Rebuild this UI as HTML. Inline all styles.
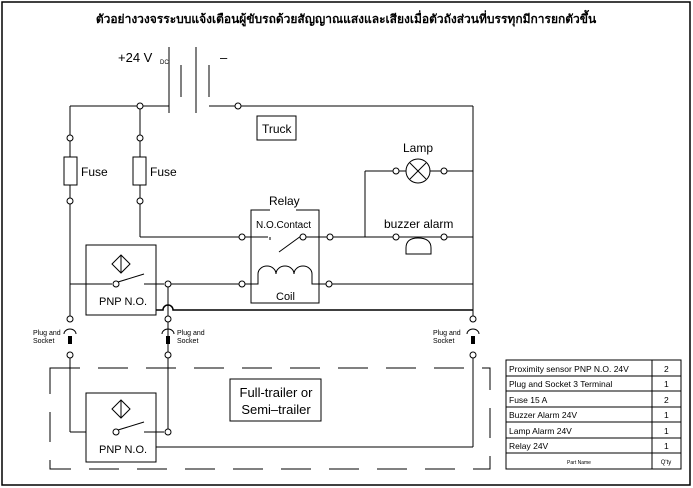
<!DOCTYPE html>
<html><head><meta charset="utf-8"><style>
html,body{margin:0;padding:0;background:#fff;}
svg{display:block;}
text{font-family:"Liberation Sans","DejaVu Sans",sans-serif;fill:#000;}
</style></head><body>
<svg width="693" height="488" viewBox="0 0 693 488" xmlns="http://www.w3.org/2000/svg">
<rect x="2" y="2" width="688" height="483" fill="none" stroke="#000" stroke-width="1.5"/>
<text x="346" y="23" font-size="12" font-weight="bold" text-anchor="middle" font-family="'Liberation Sans','Noto Sans CJK SC',sans-serif">ตัวอย่างวงจรระบบแจ้งเตือนผู้ขับรถด้วยสัญญาณแสงและเสียงเมื่อตัวถังส่วนที่บรรทุกมีการยกตัวขึ้น</text>
<g stroke="#000" stroke-width="1" fill="none">
<line x1="70" y1="106" x2="169" y2="106"/>
<line x1="209" y1="106" x2="473" y2="106"/>
<line x1="169" y1="47" x2="169" y2="113"/>
<line x1="181" y1="65" x2="181" y2="97"/>
<line x1="196" y1="47" x2="196" y2="113"/>
<line x1="209" y1="65" x2="209" y2="97"/>
<line x1="70" y1="106" x2="70" y2="319"/>
<line x1="140" y1="106" x2="140" y2="237"/>
<rect x="64" y="157" width="13" height="28" fill="#fff"/>
<rect x="133" y="157" width="13" height="28" fill="#fff"/>
<line x1="473" y1="106" x2="473" y2="319"/>
<rect x="257" y="116" width="39" height="24"/>
<line x1="365" y1="171" x2="473" y2="171"/>
<line x1="365" y1="171" x2="365" y2="237"/>
<circle cx="418" cy="171" r="12" fill="#fff"/>
<line x1="410" y1="163" x2="426" y2="179"/><line x1="426" y1="163" x2="410" y2="179"/>
<line x1="140" y1="237" x2="242" y2="237"/>
<line x1="242" y1="237" x2="268" y2="237"/>
<line x1="303" y1="237" x2="473" y2="237"/>
<line x1="270" y1="237" x2="270" y2="240"/>
<line x1="279" y1="252" x2="301" y2="236"/>
<polyline points="270,210 251,210 251,303 319,303 319,210 296,210"/>
<path d="M406,254 L406,248 Q406,238 418,238 Q431,238 431,248 L431,254 Z" fill="#fff"/>
<line x1="168" y1="284" x2="242" y2="284"/>
<path d="M242,284 L258,284 L258,274 a9,8 0 0 1 18,0 a9,8 0 0 1 18,0 a9,8 0 0 1 18,0 L312,284 L329,284 L473,284"/>
<rect x="86" y="245" width="70" height="70"/>
<path d="M121,255 L112,264 L121,273 L130,264 Z M121,255 L121,273"/>
<line x1="70" y1="284" x2="112" y2="284"/>
<line x1="118" y1="282" x2="144" y2="274"/>
<line x1="144" y1="284" x2="164" y2="284"/>
<line x1="168" y1="284" x2="168" y2="432"/>
<path d="M156,310 L163,310 a5,5 0 0 1 10,0 L473,310" stroke-width="1.5"/>
<line x1="70" y1="355" x2="70" y2="432"/>
<line x1="70" y1="432" x2="112" y2="432"/>
<line x1="473" y1="355" x2="473" y2="447"/>
<line x1="156" y1="447" x2="473" y2="447"/>
<rect x="86" y="393" width="70" height="69" fill="#fff"/>
<path d="M121,400 L112,409 L121,418 L130,409 Z M121,400 L121,418"/>
<line x1="118" y1="430" x2="144" y2="422"/>
<line x1="144" y1="432" x2="164" y2="432"/>
<rect x="50" y="368" width="440" height="101" stroke-dasharray="30,18"/>
<rect x="230" y="379" width="91" height="42" fill="#fff"/>
<rect x="506" y="360" width="175" height="109"/>
<line x1="652" y1="360" x2="652" y2="469"/>
<line x1="506" y1="376" x2="681" y2="376"/><line x1="506" y1="391" x2="681" y2="391"/>
<line x1="506" y1="407" x2="681" y2="407"/><line x1="506" y1="422" x2="681" y2="422"/>
<line x1="506" y1="438" x2="681" y2="438"/><line x1="506" y1="453" x2="681" y2="453"/>
</g>
<g stroke="#000" stroke-width="1" fill="none">
<path d="M64,334 a6,5 0 0 1 12,0"/><path d="M162,334 a6,5 0 0 1 12,0"/><path d="M467,334 a6,5 0 0 1 12,0"/>
</g>
<rect x="68" y="336" width="4" height="8" fill="#000"/>
<rect x="166" y="336" width="4" height="8" fill="#000"/>
<rect x="471" y="336" width="4" height="8" fill="#000"/>
<g stroke="#000" stroke-width="1" fill="#fff">
<circle cx="140" cy="106" r="3"/><circle cx="238" cy="106" r="3"/>
<circle cx="70" cy="138" r="3"/><circle cx="70" cy="201" r="3"/>
<circle cx="140" cy="138" r="3"/><circle cx="140" cy="201" r="3"/>
<circle cx="396" cy="171" r="3"/><circle cx="444" cy="171" r="3"/>
<circle cx="242" cy="237" r="3"/><circle cx="303" cy="237" r="3"/><circle cx="330" cy="237" r="3"/>
<circle cx="396" cy="237" r="3"/><circle cx="444" cy="237" r="3"/>
<circle cx="242" cy="284" r="3"/><circle cx="329" cy="284" r="3"/>
<circle cx="116" cy="284" r="3"/><circle cx="168" cy="284" r="3"/>
<circle cx="70" cy="319" r="3"/><circle cx="70" cy="355" r="3"/>
<circle cx="168" cy="319" r="3"/><circle cx="168" cy="355" r="3"/>
<circle cx="473" cy="319" r="3"/><circle cx="473" cy="355" r="3"/>
<circle cx="116" cy="432" r="3"/><circle cx="168" cy="432" r="3"/>
</g>
<text x="118" y="62" font-size="13">+24  V</text><text x="160" y="64" font-size="6">DC</text>
<text x="220" y="62" font-size="13">–</text>
<text x="262" y="133" font-size="12">Truck</text>
<text x="81" y="176" font-size="12">Fuse</text>
<text x="150" y="176" font-size="12">Fuse</text>
<text x="403" y="152" font-size="12">Lamp</text>
<text x="269" y="205" font-size="12">Relay</text>
<text x="256" y="228" font-size="10">N.O.Contact</text>
<text x="384" y="228" font-size="12">buzzer  alarm</text>
<text x="276" y="300" font-size="11">Coil</text>
<text x="99" y="305" font-size="11">PNP  N.O.</text>
<text x="99" y="453" font-size="11">PNP  N.O.</text>
<text x="276" y="397" font-size="13" text-anchor="middle">Full-trailer  or</text>
<text x="276" y="414" font-size="13" text-anchor="middle">Semi–trailer</text>
<g font-size="7">
<text x="33" y="335">Plug and</text><text x="33" y="343">Socket</text>
<text x="177" y="335">Plug and</text><text x="177" y="343">Socket</text>
<text x="433" y="335">Plug and</text><text x="433" y="343">Socket</text>
</g>
<g font-size="8.5">
<text x="509" y="372">Proximity sensor PNP N.O. 24V</text>
<text x="509" y="387">Plug and Socket 3 Terminal</text>
<text x="509" y="403">Fuse 15 A</text>
<text x="509" y="418">Buzzer Alarm 24V</text>
<text x="509" y="434">Lamp Alarm 24V</text>
<text x="509" y="449">Relay 24V</text>
<text x="664" y="372">2</text><text x="664" y="387">1</text><text x="664" y="403">2</text>
<text x="664" y="418">1</text><text x="664" y="434">1</text><text x="664" y="449">1</text>
</g>
<text x="579" y="464" font-size="5" text-anchor="middle">Part Name</text>
<text x="666" y="464" font-size="6" text-anchor="middle">Q'ty</text>
</svg>
</body></html>
